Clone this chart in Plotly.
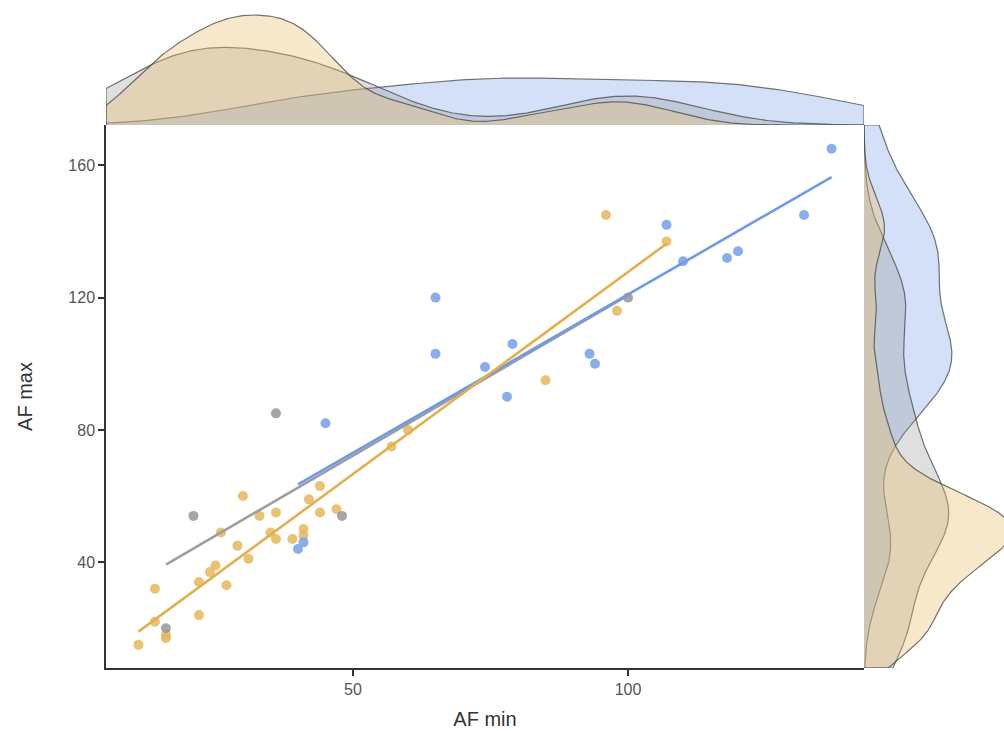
import numpy as np
import plotly.graph_objects as go

# AF min / AF max measurements, one list pair per group
gold_min = [30, 44, 42, 33, 36, 44, 47, 26, 35, 41, 41, 36, 39, 29, 31, 25,
            24, 22, 27, 14, 22, 14, 16, 16, 11, 57, 60, 85, 96, 98, 107]
gold_max = [60, 63, 59, 54, 55, 55, 56, 49, 49, 50, 48, 47, 47, 45, 41, 39,
            37, 34, 33, 32, 24, 22, 18, 17, 15, 75, 80, 95, 145, 116, 137]

gray_min = [21, 48, 16, 36, 100]
gray_max = [54, 54, 20, 85, 120]

blue_min = [41, 40, 45, 65, 65, 74, 78, 79, 93, 94, 107, 110, 118, 120, 132, 137]
blue_max = [46, 44, 82, 120, 103, 99, 90, 106, 103, 100, 142, 131, 132, 134, 145, 165]

x_ticks = [50, 100]
y_ticks = [40, 80, 120, 160]

X_RANGE = [5.1, 142.9]
Y_RANGE = [8.0, 172.2]

groups = [
    # name, x, y, point colour, line colour, density fill
    ("blue", blue_min, blue_max, "rgba(122,163,233,0.88)", "#6F9BE6", "rgba(120,162,232,0.33)"),
    ("gray", gray_min, gray_max, "rgba(150,150,150,0.85)", "#9E9E9E", "rgba(150,150,150,0.30)"),
    ("gold", gold_min, gold_max, "rgba(230,183,92,0.85)", "#E2B04E", "rgba(232,192,112,0.36)"),
]


def kde(values, grid):
    """Gaussian kernel density with Silverman's rule-of-thumb bandwidth (nrd0)."""
    v = np.asarray(values, dtype=float)
    n = v.size
    sd = v.std(ddof=1)
    q75, q25 = np.percentile(v, [75, 25])
    spread = min(sd, (q75 - q25) / 1.34) if q75 > q25 else sd
    bw = 0.9 * spread * n ** (-0.2)
    z = (grid[:, None] - v[None, :]) / bw
    return np.exp(-0.5 * z ** 2).sum(axis=1) / (n * bw * np.sqrt(2 * np.pi))


gx = np.linspace(X_RANGE[0], X_RANGE[1], 512)
gy = np.linspace(Y_RANGE[0], Y_RANGE[1], 512)

fig = go.Figure()

dens_x = {}
dens_y = {}
for name, xs, ys, pc, lc, fc in groups:
    dens_x[name] = kde(xs, gx)
    dens_y[name] = kde(ys, gy)

# marginal densities: x on top, y on the right
outline = dict(color="rgba(70,70,70,0.75)", width=1.2)
for name, xs, ys, pc, lc, fc in groups:
    dx = dens_x[name]
    fig.add_trace(go.Scatter(
        x=np.concatenate([[gx[0]], gx, [gx[-1]]]),
        y=np.concatenate([[0], dx, [0]]),
        fill="toself", fillcolor=fc, line=outline, mode="lines",
        xaxis="x2", yaxis="y2", hoverinfo="skip", showlegend=False))
    dy = dens_y[name]
    fig.add_trace(go.Scatter(
        x=np.concatenate([[0], dy, [0]]),
        y=np.concatenate([[gy[0]], gy, [gy[-1]]]),
        fill="toself", fillcolor=fc, line=outline, mode="lines",
        xaxis="x3", yaxis="y3", hoverinfo="skip", showlegend=False))

# scatter points
for name, xs, ys, pc, lc, fc in [groups[2], groups[1], groups[0]]:
    fig.add_trace(go.Scatter(
        x=xs, y=ys, mode="markers",
        marker=dict(size=10, color=pc, line=dict(width=0)),
        name=name, showlegend=False))

# least-squares fit lines, one per group over its own x span
for name, xs, ys, pc, lc, fc in [groups[1], groups[0], groups[2]]:
    slope, intercept = np.polyfit(xs, ys, 1)
    lx = np.array([min(xs), max(xs)], dtype=float)
    fig.add_trace(go.Scatter(
        x=lx, y=slope * lx + intercept, mode="lines",
        line=dict(color=lc, width=2.6), showlegend=False, hoverinfo="skip"))

peak_x = max(d.max() for d in dens_x.values())
peak_y = max(d.max() for d in dens_y.values())

W, H = 1004, 731
left, right_main = 106 / W, 864 / W
bottom, top_main = 1 - 668 / H, 1 - 125 / H

axis_font = dict(family="Liberation Sans, Arial, sans-serif", size=16, color="#555555")
title_font = dict(family="Liberation Sans, Arial, sans-serif", size=20, color="#333333")

fig.update_layout(
    width=W, height=H,
    margin=dict(l=0, r=0, t=0, b=0),
    paper_bgcolor="white", plot_bgcolor="white",
    xaxis=dict(domain=[left, right_main], range=X_RANGE, tickvals=x_ticks,
               showgrid=False, zeroline=False, showline=True, linecolor="#333333",
               linewidth=1.5, ticks="outside", ticklen=6, tickwidth=1.5, tickcolor="#333333",
               tickfont=axis_font, title=dict(text="AF min", font=title_font, standoff=15),
               anchor="y"),
    yaxis=dict(domain=[bottom, top_main], range=Y_RANGE, tickvals=y_ticks,
               showgrid=False, zeroline=False, showline=True, linecolor="#333333",
               linewidth=1.5, ticks="outside", ticklen=6, tickwidth=1.5, tickcolor="#333333",
               tickfont=axis_font, title=dict(text="AF max", font=title_font, standoff=30),
               anchor="x"),
    xaxis2=dict(domain=[left, right_main], range=X_RANGE, matches="x", visible=False,
                anchor="y2"),
    yaxis2=dict(domain=[top_main, 1.0], range=[0, peak_x * 125 / 110], visible=False,
                anchor="x2"),
    xaxis3=dict(domain=[right_main, 1.0], range=[0, peak_y * 140 / 148], visible=False,
                anchor="y3"),
    yaxis3=dict(domain=[bottom, top_main], range=Y_RANGE, matches="y", visible=False,
                anchor="x3"),
)

fig.write_html("out.html")
